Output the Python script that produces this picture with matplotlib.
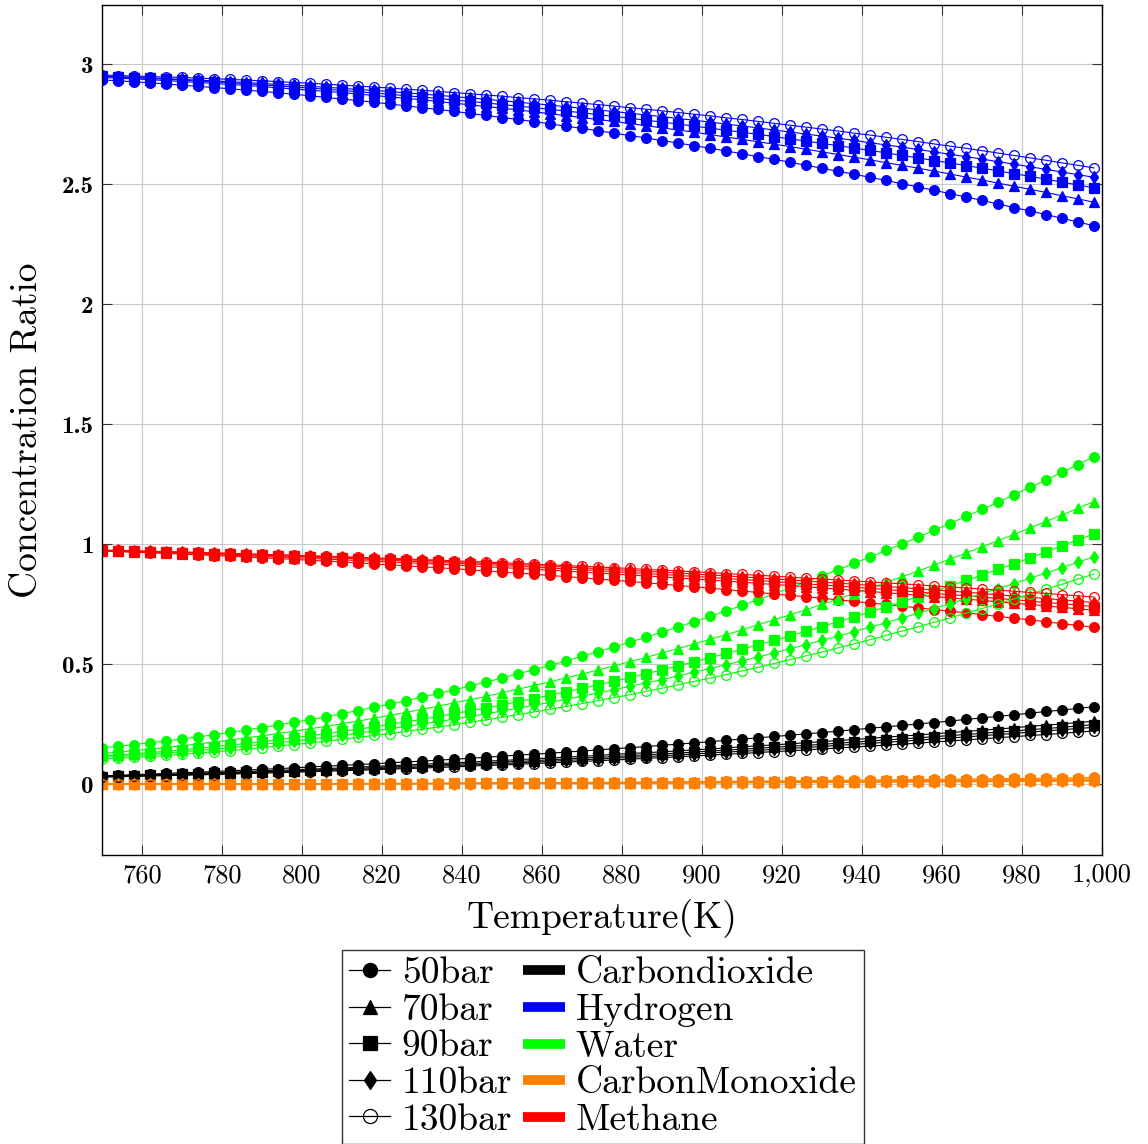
import matplotlib
matplotlib.use("Agg")
import matplotlib.pyplot as plt
from matplotlib.lines import Line2D
from matplotlib.ticker import FuncFormatter, MultipleLocator

plt.rcParams['font.family'] = 'cmr10'
plt.rcParams['mathtext.fontset'] = 'cm'
plt.rcParams['axes.formatter.use_mathtext'] = True

# Temperature grid (K)
temperature = list(range(750, 1000, 4))

pressures = ["50bar", "70bar", "90bar", "110bar", "130bar"]
species = ["Carbondioxide", "Hydrogen", "Water", "CarbonMonoxide", "Methane"]

# Carbon dioxide
co2_50 = [0.035,0.037,0.040,0.042,0.045,0.048,0.050,0.053,0.056,0.059,0.062,0.065,0.068,0.072,0.075,0.078,0.082,0.085,0.089,0.093,0.096,0.100,0.104,0.108,0.112,0.117,0.121,0.125,0.129,0.134,0.138,0.143,0.148,0.152,0.157,0.162,0.167,0.172,0.177,0.183,0.188,0.193,0.199,0.204,0.210,0.215,0.221,0.227,0.233,0.239,0.245,0.251,0.257,0.263,0.270,0.276,0.283,0.289,0.296,0.303,0.309,0.316,0.323]
co2_70 = [0.033,0.035,0.037,0.039,0.041,0.043,0.046,0.048,0.050,0.053,0.055,0.058,0.060,0.063,0.065,0.068,0.071,0.074,0.077,0.080,0.083,0.086,0.089,0.092,0.096,0.099,0.102,0.106,0.109,0.113,0.116,0.120,0.124,0.128,0.131,0.135,0.139,0.143,0.147,0.151,0.156,0.160,0.164,0.168,0.173,0.177,0.182,0.186,0.191,0.196,0.201,0.205,0.210,0.215,0.220,0.225,0.230,0.235,0.241,0.246,0.251,0.257,0.262]
co2_90 = [0.032,0.034,0.035,0.037,0.039,0.041,0.043,0.045,0.047,0.049,0.052,0.054,0.056,0.059,0.061,0.064,0.066,0.069,0.072,0.074,0.077,0.080,0.083,0.086,0.089,0.092,0.095,0.098,0.102,0.105,0.109,0.112,0.115,0.119,0.123,0.126,0.130,0.134,0.138,0.142,0.146,0.150,0.154,0.158,0.162,0.166,0.171,0.175,0.180,0.184,0.189,0.193,0.198,0.203,0.207,0.212,0.217,0.222,0.227,0.232,0.237,0.243,0.248]
co2_110 = [0.031,0.032,0.034,0.036,0.037,0.039,0.041,0.043,0.045,0.047,0.049,0.051,0.053,0.055,0.057,0.060,0.062,0.064,0.067,0.069,0.072,0.075,0.078,0.080,0.083,0.086,0.089,0.092,0.095,0.099,0.102,0.105,0.108,0.112,0.115,0.119,0.122,0.126,0.130,0.134,0.137,0.141,0.145,0.149,0.153,0.157,0.162,0.166,0.170,0.175,0.179,0.184,0.188,0.193,0.197,0.202,0.207,0.212,0.217,0.222,0.227,0.232,0.237]
co2_130 = [0.030,0.031,0.033,0.034,0.036,0.037,0.039,0.040,0.042,0.044,0.046,0.048,0.050,0.052,0.054,0.056,0.058,0.060,0.063,0.065,0.067,0.070,0.072,0.075,0.078,0.080,0.083,0.086,0.089,0.092,0.095,0.098,0.101,0.104,0.108,0.111,0.114,0.118,0.121,0.125,0.128,0.132,0.136,0.139,0.143,0.147,0.151,0.155,0.159,0.163,0.167,0.171,0.176,0.180,0.185,0.189,0.194,0.198,0.203,0.207,0.212,0.217,0.222]

# Hydrogen
h2_50 = [2.935,2.931,2.927,2.923,2.918,2.913,2.908,2.903,2.898,2.892,2.887,2.881,2.875,2.869,2.862,2.855,2.849,2.842,2.834,2.827,2.819,2.812,2.804,2.795,2.787,2.778,2.770,2.761,2.752,2.742,2.733,2.723,2.713,2.703,2.693,2.682,2.672,2.661,2.650,2.639,2.627,2.615,2.604,2.592,2.579,2.567,2.554,2.542,2.529,2.516,2.502,2.489,2.475,2.461,2.447,2.433,2.418,2.403,2.389,2.374,2.358,2.343,2.327]
h2_70 = [2.945,2.942,2.939,2.936,2.932,2.928,2.924,2.920,2.916,2.912,2.907,2.902,2.897,2.892,2.887,2.882,2.876,2.870,2.864,2.858,2.852,2.845,2.838,2.831,2.824,2.817,2.810,2.802,2.794,2.786,2.778,2.770,2.762,2.753,2.744,2.735,2.726,2.717,2.707,2.697,2.687,2.677,2.667,2.657,2.646,2.635,2.624,2.613,2.602,2.590,2.579,2.567,2.555,2.543,2.530,2.518,2.505,2.492,2.479,2.466,2.452,2.439,2.425]
h2_90 = [2.950,2.947,2.944,2.941,2.938,2.934,2.930,2.927,2.923,2.919,2.914,2.910,2.905,2.901,2.896,2.891,2.886,2.880,2.875,2.869,2.863,2.858,2.851,2.845,2.839,2.832,2.826,2.819,2.812,2.805,2.798,2.790,2.783,2.775,2.767,2.759,2.751,2.742,2.734,2.725,2.717,2.708,2.699,2.689,2.680,2.670,2.661,2.651,2.641,2.631,2.620,2.610,2.599,2.589,2.578,2.567,2.556,2.544,2.533,2.521,2.509,2.497,2.485]
h2_110 = [2.950,2.948,2.945,2.943,2.940,2.937,2.934,2.931,2.927,2.924,2.920,2.916,2.913,2.908,2.904,2.900,2.895,2.891,2.886,2.881,2.876,2.871,2.865,2.860,2.854,2.848,2.842,2.836,2.830,2.823,2.817,2.810,2.803,2.796,2.789,2.782,2.774,2.767,2.759,2.751,2.743,2.735,2.726,2.718,2.709,2.701,2.692,2.683,2.673,2.664,2.655,2.645,2.635,2.625,2.615,2.605,2.594,2.584,2.573,2.562,2.551,2.540,2.529]
h2_130 = [2.955,2.953,2.951,2.949,2.947,2.945,2.942,2.940,2.937,2.934,2.931,2.928,2.924,2.921,2.917,2.913,2.909,2.905,2.901,2.896,2.892,2.887,2.882,2.877,2.872,2.867,2.861,2.856,2.850,2.844,2.838,2.832,2.826,2.819,2.813,2.806,2.799,2.792,2.785,2.777,2.770,2.762,2.754,2.746,2.738,2.730,2.722,2.713,2.705,2.696,2.687,2.678,2.668,2.659,2.650,2.640,2.630,2.620,2.610,2.600,2.589,2.579,2.568]

# Water
h2o_50 = [0.152,0.158,0.165,0.173,0.180,0.189,0.197,0.206,0.216,0.226,0.236,0.247,0.258,0.269,0.281,0.294,0.307,0.320,0.334,0.348,0.363,0.378,0.393,0.409,0.426,0.442,0.460,0.477,0.495,0.514,0.533,0.552,0.572,0.592,0.613,0.634,0.655,0.677,0.699,0.722,0.745,0.769,0.793,0.818,0.843,0.868,0.894,0.920,0.947,0.974,1.001,1.029,1.058,1.086,1.116,1.145,1.175,1.206,1.237,1.268,1.300,1.332,1.365]
h2o_70 = [0.128,0.134,0.140,0.146,0.153,0.160,0.168,0.176,0.184,0.193,0.202,0.211,0.221,0.231,0.241,0.252,0.263,0.275,0.287,0.299,0.312,0.325,0.339,0.352,0.366,0.381,0.396,0.411,0.427,0.443,0.459,0.476,0.493,0.511,0.528,0.547,0.565,0.584,0.604,0.623,0.643,0.664,0.685,0.706,0.727,0.749,0.772,0.794,0.817,0.841,0.864,0.888,0.913,0.938,0.963,0.989,1.015,1.041,1.068,1.095,1.122,1.150,1.178]
h2o_90 = [0.118,0.122,0.127,0.132,0.137,0.143,0.149,0.156,0.163,0.170,0.177,0.185,0.193,0.202,0.210,0.220,0.229,0.239,0.249,0.260,0.271,0.282,0.294,0.306,0.318,0.331,0.344,0.357,0.371,0.385,0.399,0.414,0.429,0.445,0.460,0.476,0.493,0.510,0.527,0.545,0.562,0.581,0.599,0.618,0.637,0.657,0.677,0.697,0.718,0.739,0.760,0.782,0.804,0.826,0.849,0.872,0.895,0.919,0.943,0.968,0.993,1.018,1.043]
h2o_110 = [0.112,0.116,0.120,0.125,0.130,0.135,0.140,0.146,0.152,0.159,0.166,0.173,0.180,0.188,0.196,0.204,0.213,0.222,0.231,0.241,0.251,0.261,0.271,0.282,0.293,0.305,0.316,0.329,0.341,0.354,0.367,0.380,0.394,0.408,0.422,0.436,0.451,0.467,0.482,0.498,0.514,0.530,0.547,0.564,0.582,0.599,0.617,0.636,0.654,0.673,0.693,0.712,0.732,0.752,0.773,0.794,0.815,0.836,0.858,0.880,0.902,0.925,0.948]
h2o_130 = [0.105,0.108,0.112,0.116,0.120,0.125,0.130,0.135,0.140,0.146,0.152,0.159,0.165,0.172,0.179,0.187,0.195,0.203,0.211,0.220,0.229,0.238,0.248,0.258,0.268,0.279,0.290,0.301,0.312,0.324,0.336,0.348,0.361,0.373,0.387,0.400,0.414,0.428,0.442,0.457,0.472,0.487,0.503,0.519,0.535,0.551,0.568,0.585,0.602,0.620,0.638,0.656,0.675,0.693,0.713,0.732,0.752,0.772,0.792,0.813,0.833,0.855,0.876]

# Carbon monoxide
co_50 = [0.0010,0.0010,0.0011,0.0011,0.0012,0.0012,0.0013,0.0014,0.0016,0.0017,0.0018,0.0020,0.0022,0.0024,0.0025,0.0028,0.0030,0.0032,0.0035,0.0037,0.0040,0.0043,0.0046,0.0049,0.0053,0.0056,0.0060,0.0064,0.0067,0.0071,0.0076,0.0080,0.0084,0.0089,0.0094,0.0098,0.0103,0.0108,0.0114,0.0119,0.0125,0.0130,0.0136,0.0142,0.0148,0.0154,0.0160,0.0167,0.0173,0.0180,0.0187,0.0194,0.0201,0.0208,0.0216,0.0223,0.0231,0.0239,0.0247,0.0255,0.0263,0.0271,0.0280]
co_70 = [0.0009,0.0009,0.0010,0.0010,0.0011,0.0011,0.0011,0.0012,0.0014,0.0014,0.0015,0.0017,0.0018,0.0020,0.0021,0.0023,0.0025,0.0026,0.0029,0.0030,0.0032,0.0035,0.0037,0.0039,0.0043,0.0045,0.0048,0.0051,0.0053,0.0057,0.0060,0.0064,0.0067,0.0071,0.0075,0.0078,0.0082,0.0085,0.0090,0.0094,0.0099,0.0103,0.0107,0.0112,0.0117,0.0121,0.0126,0.0131,0.0136,0.0142,0.0147,0.0153,0.0158,0.0163,0.0170,0.0175,0.0181,0.0188,0.0194,0.0200,0.0206,0.0213,0.0220]
co_90 = [0.0008,0.0008,0.0009,0.0009,0.0009,0.0009,0.0010,0.0011,0.0012,0.0012,0.0013,0.0014,0.0016,0.0017,0.0018,0.0020,0.0021,0.0022,0.0024,0.0025,0.0027,0.0029,0.0031,0.0033,0.0036,0.0037,0.0040,0.0043,0.0044,0.0047,0.0050,0.0053,0.0055,0.0059,0.0062,0.0064,0.0068,0.0071,0.0075,0.0078,0.0082,0.0085,0.0089,0.0092,0.0096,0.0100,0.0104,0.0108,0.0112,0.0117,0.0121,0.0126,0.0130,0.0135,0.0140,0.0144,0.0149,0.0155,0.0160,0.0165,0.0170,0.0175,0.0181]
co_110 = [0.0007,0.0007,0.0008,0.0008,0.0008,0.0008,0.0009,0.0009,0.0010,0.0011,0.0011,0.0012,0.0013,0.0015,0.0015,0.0017,0.0018,0.0019,0.0021,0.0022,0.0023,0.0025,0.0026,0.0028,0.0030,0.0032,0.0034,0.0036,0.0038,0.0040,0.0043,0.0045,0.0047,0.0050,0.0052,0.0055,0.0057,0.0060,0.0063,0.0066,0.0069,0.0072,0.0075,0.0078,0.0082,0.0085,0.0088,0.0092,0.0095,0.0099,0.0103,0.0106,0.0110,0.0114,0.0118,0.0122,0.0126,0.0131,0.0135,0.0139,0.0144,0.0148,0.0153]
co_130 = [0.0006,0.0006,0.0006,0.0006,0.0007,0.0007,0.0007,0.0008,0.0009,0.0009,0.0010,0.0011,0.0012,0.0012,0.0013,0.0014,0.0015,0.0016,0.0018,0.0018,0.0020,0.0021,0.0023,0.0024,0.0026,0.0027,0.0029,0.0031,0.0032,0.0034,0.0036,0.0038,0.0040,0.0042,0.0045,0.0046,0.0049,0.0051,0.0054,0.0056,0.0059,0.0061,0.0064,0.0067,0.0069,0.0072,0.0075,0.0078,0.0081,0.0084,0.0087,0.0091,0.0094,0.0097,0.0101,0.0104,0.0108,0.0111,0.0115,0.0119,0.0122,0.0126,0.0130]

# Methane
ch4_50 = [0.972,0.970,0.967,0.964,0.962,0.959,0.956,0.953,0.950,0.947,0.943,0.940,0.937,0.933,0.930,0.926,0.922,0.918,0.914,0.910,0.906,0.902,0.898,0.893,0.889,0.884,0.880,0.875,0.870,0.865,0.860,0.855,0.850,0.845,0.839,0.834,0.828,0.823,0.817,0.811,0.805,0.799,0.793,0.787,0.781,0.775,0.768,0.762,0.755,0.749,0.742,0.735,0.728,0.721,0.714,0.707,0.699,0.692,0.685,0.677,0.669,0.662,0.654]
ch4_70 = [0.972,0.970,0.968,0.966,0.964,0.961,0.959,0.957,0.954,0.952,0.949,0.947,0.944,0.941,0.938,0.935,0.932,0.929,0.926,0.923,0.920,0.917,0.913,0.910,0.906,0.903,0.899,0.895,0.892,0.888,0.884,0.880,0.876,0.872,0.868,0.864,0.859,0.855,0.851,0.846,0.842,0.837,0.832,0.828,0.823,0.818,0.813,0.808,0.803,0.798,0.793,0.787,0.782,0.777,0.771,0.766,0.760,0.754,0.749,0.743,0.737,0.731,0.725]
ch4_90 = [0.974,0.972,0.971,0.969,0.967,0.965,0.963,0.961,0.959,0.956,0.954,0.952,0.949,0.947,0.944,0.942,0.939,0.936,0.933,0.930,0.927,0.924,0.921,0.918,0.915,0.911,0.908,0.904,0.901,0.897,0.894,0.890,0.886,0.882,0.878,0.874,0.870,0.866,0.862,0.857,0.853,0.849,0.844,0.840,0.835,0.830,0.826,0.821,0.816,0.811,0.806,0.801,0.795,0.790,0.785,0.780,0.774,0.769,0.763,0.757,0.752,0.746,0.740]
ch4_110 = [0.975,0.974,0.972,0.970,0.969,0.967,0.965,0.963,0.961,0.959,0.957,0.955,0.953,0.951,0.948,0.946,0.943,0.941,0.938,0.935,0.933,0.930,0.927,0.924,0.921,0.918,0.915,0.912,0.908,0.905,0.902,0.898,0.895,0.891,0.887,0.884,0.880,0.876,0.872,0.868,0.864,0.860,0.855,0.851,0.847,0.842,0.838,0.833,0.829,0.824,0.819,0.814,0.810,0.805,0.800,0.795,0.789,0.784,0.779,0.774,0.768,0.763,0.757]
ch4_130 = [0.975,0.974,0.972,0.971,0.969,0.967,0.966,0.964,0.962,0.960,0.958,0.956,0.954,0.952,0.950,0.948,0.946,0.943,0.941,0.939,0.936,0.934,0.931,0.928,0.926,0.923,0.920,0.917,0.914,0.911,0.908,0.905,0.902,0.899,0.895,0.892,0.889,0.885,0.882,0.878,0.874,0.871,0.867,0.863,0.859,0.855,0.851,0.847,0.843,0.839,0.835,0.831,0.826,0.822,0.818,0.813,0.809,0.804,0.799,0.795,0.790,0.785,0.780]

series = {
    "Carbondioxide": [co2_50, co2_70, co2_90, co2_110, co2_130],
    "Hydrogen": [h2_50, h2_70, h2_90, h2_110, h2_130],
    "Water": [h2o_50, h2o_70, h2o_90, h2o_110, h2o_130],
    "CarbonMonoxide": [co_50, co_70, co_90, co_110, co_130],
    "Methane": [ch4_50, ch4_70, ch4_90, ch4_110, ch4_130],
}

species_colors = {
    "Carbondioxide": "#000000",
    "Hydrogen": "#0000ff",
    "Water": "#00ff00",
    "CarbonMonoxide": "#ff8000",
    "Methane": "#ff0000",
}

# marker, size, filled
pressure_styles = [("o", 7.0, True), ("^", 6.5, True), ("s", 6.5, True),
                   ("d", 6.5, True), ("o", 7.0, False)]

fig = plt.figure(figsize=(11.48, 11.44), dpi=100)
ax = fig.add_axes([102 / 1148, 1 - 855 / 1144, 1000 / 1148, 850 / 1144])

for pi, p in enumerate(pressures):
    mk, ms, filled = pressure_styles[pi]
    for s in species:
        c = species_colors[s]
        ax.plot(temperature, series[s][pi], color=c, lw=0.8,
                marker=mk, ms=ms, mec=c, mew=0.9,
                mfc=c if filled else "none")

ax.set_xlim(750, 1000)
ax.set_ylim(-0.295, 3.247)
ax.xaxis.set_major_locator(MultipleLocator(20))
ax.yaxis.set_major_locator(MultipleLocator(0.5))
ax.xaxis.set_major_formatter(FuncFormatter(lambda v, _: f"{v:,.0f}"))
ax.yaxis.set_major_formatter(FuncFormatter(lambda v, _: f"{v:g}"))

ax.grid(True, color="#c8c8c8", lw=0.8)
ax.set_axisbelow(True)
ax.tick_params(direction="in", length=7, width=0.8, color="#333333",
               top=True, right=True, labelsize=19, pad=6)
ax.yaxis.set_tick_params(labelfontfamily="cmb10", labelsize=18)
for sp in ax.spines.values():
    sp.set_linewidth(1.0)

ax.set_xlabel("Temperature(K)", fontsize=27, labelpad=9)
ax.set_ylabel("Concentration Ratio", fontsize=27, labelpad=13)

pressure_handles = [
    Line2D([], [], color="black", lw=0.9, marker=mk, ms=ms * 1.45,
           mfc="black" if filled else "none", mec="black", mew=0.9)
    for mk, ms, filled in pressure_styles
]
species_handles = [Line2D([], [], color=species_colors[s], lw=7,
                          solid_capstyle="butt") for s in species]

leg = fig.legend(pressure_handles + species_handles, pressures + species,
                 ncol=2, loc="upper center",
                 bbox_to_anchor=(603 / 1148, 1 - 950 / 1144),
                 frameon=True, fancybox=False, edgecolor="black",
                 fontsize=27, handlelength=1.1, handletextpad=0.3,
                 columnspacing=0.3, labelspacing=0.09, borderpad=0.18,
                 borderaxespad=0)
leg.get_frame().set_linewidth(1.0)

fig.savefig("out.png", dpi=100)
